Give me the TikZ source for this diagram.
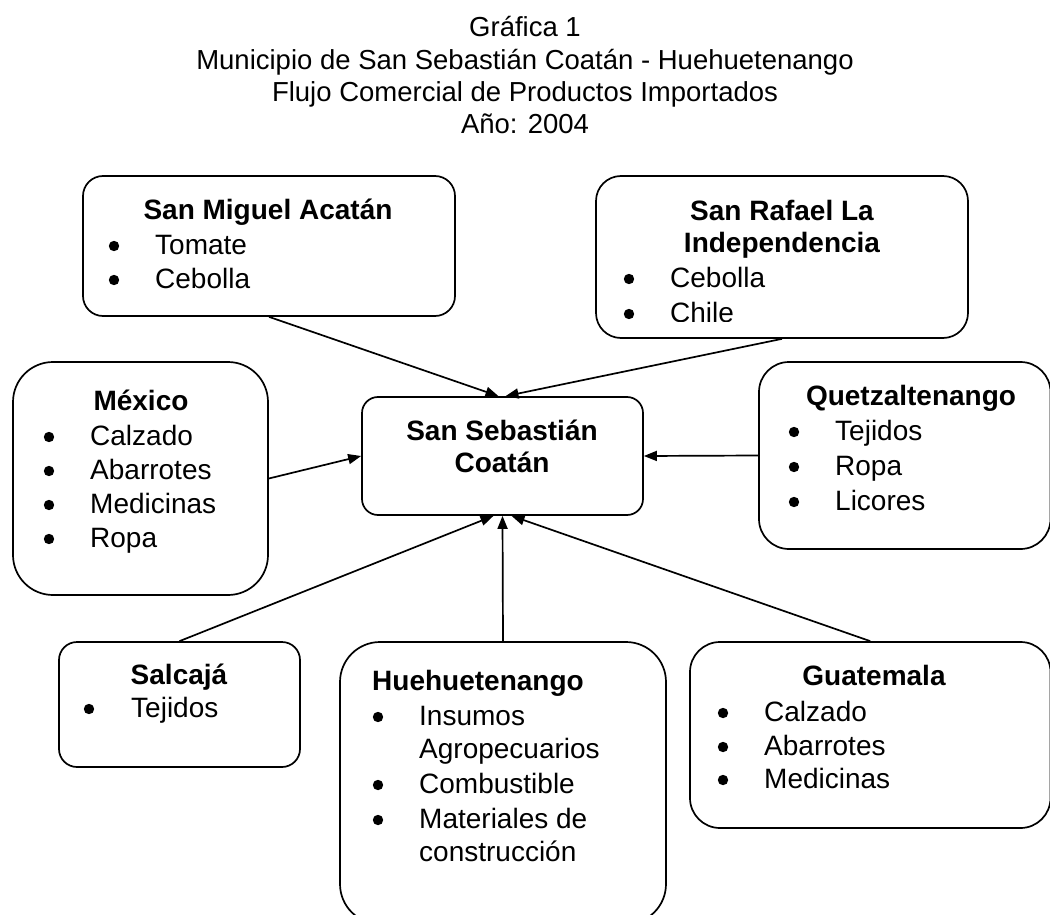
\documentclass[tikz,border=0pt]{standalone}
\usepackage{fontspec}
\setmainfont{Liberation Sans}
\usetikzlibrary{arrows.meta}
\begin{document}
\begin{tikzpicture}[x=1pt,y=-1pt,
  box/.style={draw, line width=1.7pt, rounded corners=#1, inner sep=0pt},
  ttl/.style={anchor=base, inner sep=0pt, font=\fontsize{27.5}{32}\selectfont},
  head/.style={anchor=base, inner sep=0pt, font=\fontsize{28}{34}\selectfont\bfseries},
  headw/.style={anchor=base west, inner sep=0pt, font=\fontsize{28}{34}\selectfont\bfseries},
  item/.style={anchor=base west, inner sep=0pt, font=\fontsize{28}{34}\selectfont},
  bul/.style={circle, fill=black, inner sep=0pt, minimum size=10.4pt, yshift=8pt},
  flow/.style={line width=1.7pt, -{Triangle[length=13pt,width=10pt]}}]
\useasboundingbox (0,0) rectangle (1050,915);
\clip (0,0) rectangle (1050,915);

% title
\node[ttl] (t1) at (525,37) {Gráfica 1};
\node[ttl] (t2) at (525,70) {Municipio de San Sebastián Coatán - Huehuetenango};
\node[ttl] (t3) at (525,102) {Flujo Comercial de Productos Importados};
\node[ttl] (t4) at (525,134) {Año: 2004};

% boxes
\node[box=20pt, minimum width=372pt, minimum height=140pt] (smig) at (269,246) {};
\node[box=25pt, minimum width=372pt, minimum height=162pt] (sraf) at (782,257) {};
\node[box=40pt, minimum width=255pt, minimum height=233pt] (mex) at (140.5,478.5) {};
\node[box=16pt, minimum width=281pt, minimum height=118pt] (ctr) at (502.5,456) {};
\node[box=30pt, minimum width=291.5pt, minimum height=187pt] (quet) at (904.75,455.5) {};
\node[box=18pt, minimum width=241pt, minimum height=125pt] (salc) at (179.5,704.5) {};
\node[box=40pt, minimum width=326pt, minimum height=282pt] (hueh) at (503,783) {};
\node[box=30pt, minimum width=360.5pt, minimum height=186pt] (guat) at (870.25,735) {};

% San Miguel Acatán
\node[head] (smigh) at (268,219) {San Miguel Acatán};
\node[bul] (smigb1) at (114,254) {};
\node[item] (smigi1) at (155,254) {Tomate};
\node[bul] (smigb2) at (114,288) {};
\node[item] (smigi2) at (155,288) {Cebolla};

% San Rafael La Independencia
\node[head] (srafh1) at (782,220) {San Rafael La};
\node[head] (srafh2) at (782,252) {Independencia};
\node[bul] (srafb1) at (629,287) {};
\node[item] (srafi1) at (670,287) {Cebolla};
\node[bul] (srafb2) at (629,322) {};
\begin{scope}
\clip (600,290) rectangle (960,321.5);
\node[item] (srafi2) at (670,322) {Chile};
\end{scope}

% México
\node[head] (mexh) at (141,410) {México};
\node[bul] (mexb1) at (49,445) {};
\node[item] (mexi1) at (90,445) {Calzado};
\node[bul] (mexb2) at (49,479) {};
\node[item] (mexi2) at (90,479) {Abarrotes};
\node[bul] (mexb3) at (49,513) {};
\node[item] (mexi3) at (90,513) {Medicinas};
\node[bul] (mexb4) at (49,547) {};
\node[item] (mexi4) at (90,547) {Ropa};

% centre
\node[head] (ctrh1) at (502,440) {San Sebastián};
\node[head] (ctrh2) at (502,472) {Coatán};

% Quetzaltenango
\node[head] (queth) at (911,405) {Quetzaltenango};
\node[bul] (quetb1) at (794,440) {};
\node[item] (queti1) at (835,440) {Tejidos};
\node[bul] (quetb2) at (794,475) {};
\node[item] (queti2) at (835,475) {Ropa};
\node[bul] (quetb3) at (794,510) {};
\node[item] (queti3) at (835,510) {Licores};

% Salcajá
\node[head] (salch) at (179,684) {Salcajá};
\node[bul] (salcb1) at (89,717) {};
\node[item] (salci1) at (131,717) {Tejidos};

% Huehuetenango
\node[headw] (huehh) at (372,690) {Huehuetenango};
\node[bul] (huehb1) at (378,725) {};
\node[item] (huehi1) at (419,725) {Insumos};
\node[item] (huehi1b) at (419,758) {Agropecuarios};
\node[bul] (huehb2) at (378,793) {};
\node[item] (huehi2) at (419,793) {Combustible};
\node[bul] (huehb3) at (378,828) {};
\node[item] (huehi3) at (419,828) {Materiales de};
\node[item] (huehi3b) at (419,861) {construcción};

% Guatemala
\node[head] (guath) at (874,685) {Guatemala};
\node[bul] (guatb1) at (723,721) {};
\node[item] (guati1) at (764,721) {Calzado};
\node[bul] (guatb2) at (723,755) {};
\node[item] (guati2) at (764,755) {Abarrotes};
\node[bul] (guatb3) at (723,788) {};
\node[item] (guati3) at (764,788) {Medicinas};

% connectors
\draw[flow] (smig.south) -- ([xshift=-4pt]ctr.north);
\draw[flow] (sraf.south) -- ([xshift=3pt]ctr.north);
\draw[flow] (mex.east) -- (ctr.west);
\draw[flow] (quet.west) -- (ctr.east);
\draw[flow] (salc.north) -- ([xshift=-9pt]ctr.south);
\draw[flow] (hueh.north) -- (ctr.south);
\draw[flow] (guat.north) -- ([xshift=9pt]ctr.south);
\end{tikzpicture}
\end{document}
